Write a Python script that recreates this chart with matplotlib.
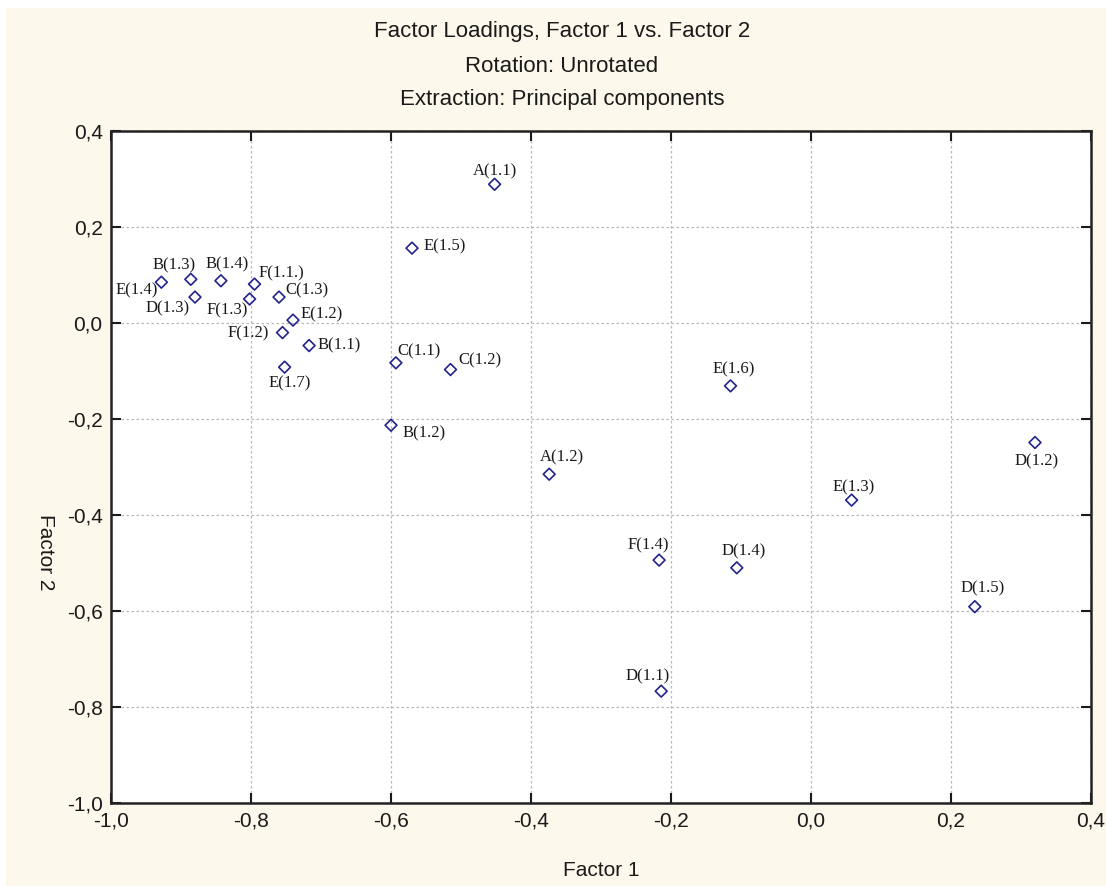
import matplotlib
matplotlib.use("Agg")
import matplotlib.pyplot as plt
from matplotlib.patches import Rectangle
from matplotlib.ticker import FixedLocator, FuncFormatter

# 因子負荷量（第1因子, 第2因子）
LABELS = [
    "A(1.1)", "E(1.5)", "B(1.3)", "B(1.4)", "E(1.4)", "D(1.3)",
    "F(1.1.)", "F(1.3)", "C(1.3)", "E(1.2)", "F(1.2)", "B(1.1)",
    "E(1.7)", "C(1.1)", "C(1.2)", "B(1.2)", "E(1.6)", "A(1.2)",
    "D(1.2)", "E(1.3)", "F(1.4)", "D(1.4)", "D(1.5)", "D(1.1)",
]
FACTOR1 = [
    -0.452, -0.570, -0.886, -0.843, -0.928, -0.880,
    -0.795, -0.802, -0.760, -0.740, -0.755, -0.717,
    -0.752, -0.593, -0.515, -0.600, -0.115, -0.374,
    0.320, 0.058, -0.217, -0.106, 0.234, -0.214,
]
FACTOR2 = [
    0.289, 0.156, 0.091, 0.088, 0.085, 0.054,
    0.081, 0.050, 0.054, 0.006, -0.020, -0.047,
    -0.092, -0.083, -0.097, -0.213, -0.131, -0.315,
    -0.249, -0.369, -0.494, -0.510, -0.591, -0.767,
]

# ラベル位置（点からのずれ, px）
LABEL_OFFSETS = {
    "A(1.1)": (0, 13), "E(1.5)": (33, 2), "B(1.3)": (-17, 14),
    "B(1.4)": (6, 16), "E(1.4)": (-25, -8), "D(1.3)": (-27, -11),
    "F(1.1.)": (27, 11), "F(1.3)": (-22, -11), "C(1.3)": (28, 7),
    "E(1.2)": (29, 6), "F(1.2)": (-34, -1), "B(1.1)": (30, 0),
    "E(1.7)": (5, -16), "C(1.1)": (23, 11), "C(1.2)": (29, 9),
    "B(1.2)": (33, -8), "E(1.6)": (3, 16), "A(1.2)": (13, 17),
    "D(1.2)": (2, -19), "E(1.3)": (2, 13), "F(1.4)": (-11, 15),
    "D(1.4)": (7, 16), "D(1.5)": (8, 18), "D(1.1)": (-14, 15),
}

TICKS = [-1.0, -0.8, -0.6, -0.4, -0.2, 0.0, 0.2, 0.4]

SANS = ["Liberation Sans", "DejaVu Sans"]
SERIF = ["Liberation Serif", "DejaVu Serif"]
BG = "#fcf8ec"
MARKER_COLOR = "#23238c"


def comma_fmt(v, _):
    return f"{v:.1f}".replace(".", ",")


def main():
    fig = plt.figure(figsize=(11.06, 8.86), dpi=100, facecolor=BG)
    # 上端・左端の白い余白
    fig.patches.append(Rectangle((0, 1 - 8 / 886), 1, 8 / 886,
                                 transform=fig.transFigure, fc="white",
                                 ec="none", zorder=0))
    fig.patches.append(Rectangle((0, 0), 6 / 1106, 1,
                                 transform=fig.transFigure, fc="white",
                                 ec="none", zorder=0))

    ax = fig.add_axes([111 / 1106, 1 - 803 / 886, 980 / 1106, 672 / 886])
    ax.set_facecolor("white")

    ax.scatter(FACTOR1, FACTOR2, marker="D", s=36, facecolors="none",
               edgecolors=MARKER_COLOR, linewidths=1.2, zorder=3)

    for lab, x, y in zip(LABELS, FACTOR1, FACTOR2):
        dx, dy = LABEL_OFFSETS[lab]
        ax.annotate(lab, xy=(x, y), xytext=(dx, dy),
                    textcoords="offset pixels", ha="center", va="center",
                    fontsize=12, family=SERIF, color="#1a1a1a", zorder=4)

    ax.set_xlim(-1.0, 0.4)
    ax.set_ylim(-1.0, 0.4)
    ax.xaxis.set_major_locator(FixedLocator(TICKS))
    ax.yaxis.set_major_locator(FixedLocator(TICKS))
    ax.xaxis.set_major_formatter(FuncFormatter(comma_fmt))
    ax.yaxis.set_major_formatter(FuncFormatter(comma_fmt))
    ax.tick_params(direction="in", length=7, width=1.5, top=True,
                   right=True, labelsize=15, colors="#1a1a1a", pad=6)
    for lbl in ax.get_xticklabels() + ax.get_yticklabels():
        lbl.set_family(SANS)

    ax.grid(True, color="#b8b8b8", linestyle=(0, (2, 2)), linewidth=0.9)
    ax.set_axisbelow(True)
    for sp in ax.spines.values():
        sp.set_linewidth(1.8)
        sp.set_color("#222222")

    ax.set_xlabel("Factor 1", fontsize=15, family=SANS, color="#1a1a1a",
                  va="center")
    ax.xaxis.set_label_coords(0.5, -0.1)
    ax.set_ylabel("Factor 2", fontsize=15, family=SANS, color="#1a1a1a",
                  rotation=270, va="center")
    ax.yaxis.set_label_coords(-0.067, 0.373)

    titles = [
        ("Factor Loadings, Factor 1 vs. Factor 2", 32),
        ("Rotation: Unrotated", 67),
        ("Extraction: Principal components", 100),
    ]
    for txt, ypx in titles:
        fig.text(562 / 1106, 1 - ypx / 886, txt, ha="center", va="center",
                 fontsize=16, family=SANS, color="#1a1a1a")

    fig.savefig("out.png", dpi=100, facecolor=BG)
    plt.close(fig)


if __name__ == "__main__":
    main()
